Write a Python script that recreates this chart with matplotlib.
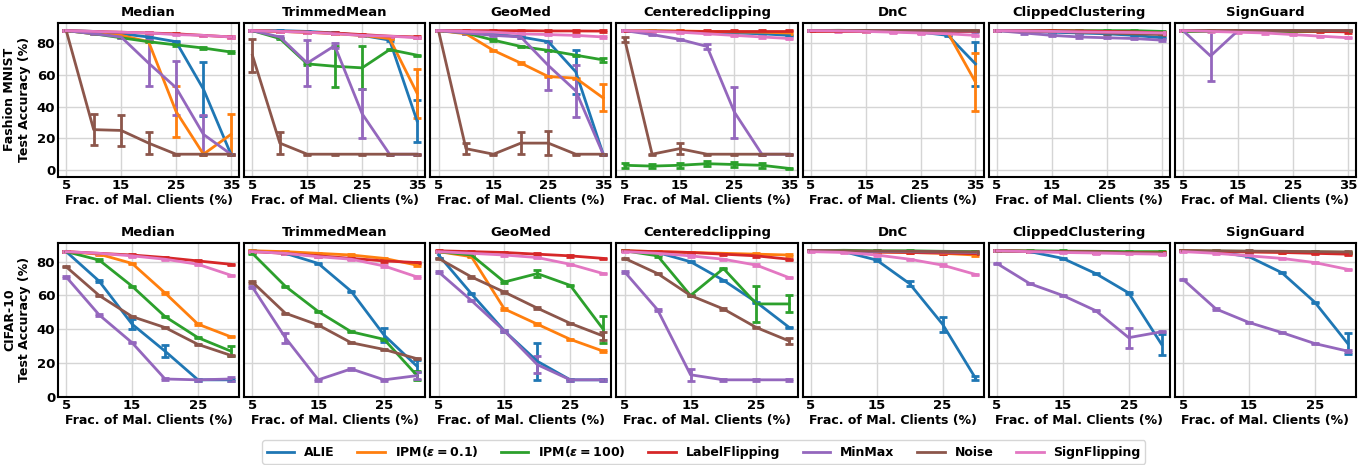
import numpy as np
import matplotlib
matplotlib.use("Agg")
import matplotlib.pyplot as plt

attacks = ["ALIE", "IPM($\\epsilon=0.1$)", "IPM($\\epsilon=100$)", "LabelFlipping",
           "MinMax", "Noise", "SignFlipping"]
colors = ["tab:blue", "tab:orange", "tab:green", "tab:red",
          "tab:purple", "tab:brown", "tab:pink"]
defenses = ["Median", "TrimmedMean", "GeoMed", "Centeredclipping", "DnC",
            "ClippedClustering", "SignGuard"]

fmnist_x = [5, 10, 15, 20, 25, 30, 35]
cifar_x = [5, 10, 15, 20, 25, 30]

# ---- Fashion MNIST: mean accuracy per attack (order as in `attacks`) ----
fm_median = [
    [88, 87.5, 86, 84, 81, 51, 10],
    [88, 86, 85, 81, 37, 10, 22.5],
    [88, 86, 83.5, 81, 79, 77, 74.5],
    [88, 87.5, 87, 86.5, 86, 85, 84],
    [88, 86, 84, 67.5, 52, 22.5, 10],
    [88, 25.5, 25, 17, 10, 10, 10],
    [88, 87.5, 87, 86.5, 85.5, 85, 84],
]
fm_trimmed = [
    [88, 88, 87.5, 86.5, 85, 82, 31],
    [88, 87.5, 87, 86, 85, 83, 48.5],
    [88, 83, 67, 65.5, 64.5, 76, 72.5],
    [88, 87.5, 87, 86.5, 85.5, 84.5, 84],
    [88, 84, 67.5, 78.5, 35.5, 10, 10],
    [72.5, 17, 10, 10, 10, 10, 10],
    [88, 87.5, 87, 86, 85, 84.5, 83.5],
]
fm_geomed = [
    [88, 87.5, 86, 84, 81, 62, 10],
    [88, 86, 75.5, 67.5, 59, 58, 45.5],
    [88, 86.5, 82, 78, 75.5, 72.5, 69.5],
    [88, 88, 88, 88, 87.8, 87.8, 87.7],
    [88, 86.5, 85, 84, 66, 50, 10],
    [88, 13.5, 10, 17, 17, 10, 10],
    [88, 87.5, 87, 86, 85.5, 85, 84],
]
fm_cclip = [
    [88, 88, 87.5, 87, 86.5, 86, 85],
    [88, 88, 87.8, 87.5, 87.2, 87, 86.5],
    [3, 2.5, 3, 4, 3.5, 3, 1],
    [88, 88, 88, 88, 88, 88, 88],
    [88, 85.5, 82.5, 78, 36.5, 10, 10],
    [82.5, 10, 13.5, 10, 10, 10, 10],
    [88, 87.5, 87, 86, 85, 84, 83],
]
fm_dnc = [
    [88, 88, 87.8, 87.5, 87, 85, 67],
    [88, 88, 87.8, 87.5, 87.2, 86.5, 55.5],
    [88, 88.2, 88, 88, 88, 88, 88],
    [88, 88, 88, 88, 88, 88, 88],
    [88, 88, 88, 88, 88, 87.8, 87.8],
    [88.2, 88.2, 88.2, 88.2, 88.2, 88.2, 88.2],
    [88, 87.8, 87.5, 87, 86.5, 86, 85],
]
fm_cclust = [
    [88, 87.5, 87, 86.5, 86, 85, 83.5],
    [88, 88, 87.8, 87.5, 87.2, 87, 86.5],
    [88, 88, 88, 88, 88, 88, 87.5],
    [88, 88, 88, 87.8, 87.5, 87.2, 86.5],
    [88, 86.5, 85, 84, 83.5, 83, 82],
    [88, 87.8, 87.5, 87, 86.5, 86, 85.5],
    [88, 87.8, 87.5, 87.2, 87, 86.8, 86.5],
]
fm_signguard = [
    [88, 88, 88, 88, 88, 88, 88],
    [88, 88, 88, 88, 88, 88, 88],
    [88, 88, 88, 88, 88, 88, 88],
    [88, 88, 88, 88, 87.8, 87.5, 87.2],
    [88, 72, 88, 88, 88, 88, 88],
    [88.2, 88.2, 88.2, 88.2, 88.2, 88.2, 88.2],
    [88, 87.5, 87, 86.5, 85.5, 84.5, 83.5],
]

# std of the larger error bars: {attack index: {x: std}}
fm_median_err = {0: {30: 17}, 1: {25: 16, 35: 13}, 4: {20: 14.5, 25: 17, 30: 12.5},
                 5: {10: 10, 15: 10, 20: 7}}
fm_trimmed_err = {0: {35: 13}, 1: {35: 15.5}, 2: {20: 13, 25: 13.5},
                  4: {15: 14.5, 20: 1.5, 25: 15.5}, 5: {5: 10.5, 10: 7}}
fm_geomed_err = {0: {30: 14}, 1: {35: 8.5}, 2: {35: 1.5}, 4: {25: 15.5, 30: 16.5},
                 5: {10: 3.5, 20: 7, 25: 7.5}}
fm_cclip_err = {2: {5: 1.5, 10: 1.5, 15: 1.5, 20: 1.5, 25: 1.5, 30: 1.5},
                4: {20: 1.5, 25: 16}, 5: {5: 1.5, 15: 3.5}}
fm_dnc_err = {0: {35: 14}, 1: {35: 18.5}}
fm_cclust_err = {}
fm_signguard_err = {4: {10: 16}}

# ---- CIFAR-10 ----
c10_median = [
    [86, 68.5, 43, 27, 10, 10],
    [86, 84.5, 79, 61.5, 43, 35.5],
    [86, 81, 65.5, 47.5, 35, 27],
    [86, 85, 84, 82.5, 80.5, 78.5],
    [71, 48.5, 32, 10.5, 10, 10.5],
    [77, 60, 47.5, 41, 31, 24.5],
    [86, 85, 83.5, 81.5, 78.5, 72],
]
c10_trimmed = [
    [86.5, 85, 79, 62.5, 36.5, 18],
    [86.5, 86, 85, 84, 82, 78],
    [85, 65.5, 50.5, 38.5, 34, 12.5],
    [86, 85, 83.5, 82, 80.5, 79.5],
    [65, 35, 10, 16.5, 10, 12.5],
    [68, 49.5, 42.5, 32, 28, 22.5],
    [86, 85, 83, 81.5, 77.5, 71],
]
c10_geomed = [
    [84, 61, 39, 21, 10, 10],
    [86, 83, 52, 43, 34, 27],
    [86, 84, 68, 73, 66, 40],
    [86.5, 86, 85.5, 84.5, 83.5, 82],
    [74, 57, 39, 19, 10, 10],
    [82, 71, 62, 52.5, 43.5, 36],
    [86, 85, 84, 82.5, 78.5, 73],
]
c10_cclip = [
    [86.5, 85.5, 80, 69, 56, 41],
    [86.5, 86, 85.5, 85, 84.5, 84],
    [86.5, 83.5, 60, 76, 55, 55],
    [86.5, 86, 85.5, 84.5, 83.5, 81.5],
    [74, 51.5, 13, 10, 10, 10],
    [82, 73, 60, 52, 41, 33],
    [86, 85, 83.5, 81.5, 78, 70.5],
]
c10_dnc = [
    [86.5, 86, 81, 67, 43, 11],
    [86.5, 86.2, 85.8, 85.5, 85, 84],
    [86.5, 86.8, 86.5, 86.5, 86.2, 86],
    [86.5, 86, 85.8, 85.5, 85.2, 84.8],
    [86.5, 86.2, 86, 86, 85.8, 85.5],
    [86.5, 86.5, 86.3, 86.2, 86, 85.8],
    [86, 85.5, 84, 81.5, 78, 72.5],
]
c10_cclust = [
    [86.5, 86, 82, 73, 61.5, 31],
    [86.5, 86.2, 86, 85.8, 85.5, 85],
    [86.5, 86.5, 86.3, 86.2, 86, 86],
    [86.5, 86.2, 86, 85.8, 85.5, 85.2],
    [79, 67, 60, 51, 35, 38.5],
    [86.5, 86.2, 86, 85.8, 85.5, 85],
    [86.5, 86, 85.5, 85.2, 84.8, 84.5],
]
c10_signguard = [
    [86.5, 86, 83, 73.5, 56, 31.5],
    [86.5, 86.2, 86, 85.8, 85.5, 85.2],
    [86.5, 86.3, 86.2, 86, 85.8, 85.6],
    [86.5, 86, 85.8, 85.5, 85, 84.5],
    [69.5, 52, 44, 38, 31.5, 27],
    [86.5, 86.5, 86.3, 86.2, 86, 85.8],
    [86, 85, 83.5, 82, 79.5, 75.5],
]

c10_median_err = {0: {15: 3, 20: 3.5}, 2: {30: 3}, 4: {30: 1}}
c10_trimmed_err = {0: {25: 4, 30: 3.5}, 2: {30: 2.5}, 4: {10: 3, 30: 2}}
c10_geomed_err = {0: {5: 2, 20: 11}, 2: {20: 2, 30: 8}, 4: {20: 5}, 5: {30: 2.5}}
c10_cclip_err = {2: {25: 10.5, 30: 5}, 4: {15: 3.5}, 5: {30: 2}}
c10_dnc_err = {0: {20: 1.5, 25: 4.5, 30: 1}}
c10_cclust_err = {0: {30: 6}, 4: {25: 6}}
c10_signguard_err = {0: {30: 6}}

rows = [
    ("Fashion MNIST\nTest Accuracy (%)", fmnist_x,
     [fm_median, fm_trimmed, fm_geomed, fm_cclip, fm_dnc, fm_cclust, fm_signguard],
     [fm_median_err, fm_trimmed_err, fm_geomed_err, fm_cclip_err, fm_dnc_err,
      fm_cclust_err, fm_signguard_err],
     (-4.2, 93), [5, 15, 25, 35]),
    ("CIFAR-10\nTest Accuracy (%)", cifar_x,
     [c10_median, c10_trimmed, c10_geomed, c10_cclip, c10_dnc, c10_cclust, c10_signguard],
     [c10_median_err, c10_trimmed_err, c10_geomed_err, c10_cclip_err, c10_dnc_err,
      c10_cclust_err, c10_signguard_err],
     (0, 91.3), [5, 15, 25]),
]

plt.rcParams["font.family"] = "DejaVu Sans"
plt.rcParams["font.weight"] = "bold"
plt.rcParams["axes.labelweight"] = "bold"
plt.rcParams["axes.titleweight"] = "bold"

fig = plt.figure(figsize=(13.64, 4.65), dpi=100)
W, H = 1364.0, 465.0
left, right = 58 / W, 1356 / W
row_box = [(1 - 22.7 / H, 1 - 176.7 / H), (1 - 242.7 / H, 1 - 396.7 / H)]
gap = 5 / W
pw = (right - left - 6 * gap) / 7

handles = None
for r, (ylabel, xs, panels, errs, ylim, xticks) in enumerate(rows):
    top, bot = row_box[r]
    for c in range(7):
        ax = fig.add_axes([left + c * (pw + gap), bot, pw, top - bot])
        ax.set_facecolor("white")
        ax.grid(True, color="#d5d5d5", lw=1.0)
        ax.set_axisbelow(True)
        lines = []
        for k in range(7):
            yerr = np.full(len(xs), 0.4)
            for xv, s in errs[c].get(k, {}).items():
                yerr[xs.index(xv)] = s
            eb = ax.errorbar(xs, panels[c][k], yerr=yerr, color=colors[k], lw=2,
                             capsize=3, capthick=2, elinewidth=2)
            lines.append(eb.lines[0])
        if handles is None:
            handles = lines
        ax.set_ylim(*ylim)
        ax.set_yticks([0, 20, 40, 60, 80])
        ax.set_xticks(xticks)
        ax.margins(x=0.05)
        ax.tick_params(length=0, labelsize=9.5, pad=2)
        for lab in ax.get_xticklabels() + ax.get_yticklabels():
            lab.set_fontweight("bold")
        if c > 0:
            ax.set_yticklabels([])
        else:
            ax.set_ylabel(ylabel, fontsize=9, labelpad=4)
        for sp in ax.spines.values():
            sp.set_color("black")
            sp.set_linewidth(1.5)
        ax.set_title(defenses[c], fontsize=9.5, pad=5)
        ax.set_xlabel("Frac. of Mal. Clients (%)", fontsize=9, labelpad=1)

leg = fig.legend(handles, attacks, loc="center", bbox_to_anchor=(0.516, 0.028),
                 ncol=7, fontsize=9, frameon=True, handlelength=2.2,
                 columnspacing=1.8, borderpad=0.35)
leg.get_frame().set_edgecolor("#cccccc")
for t in leg.get_texts():
    t.set_fontweight("bold")

fig.savefig("out.png", dpi=100)
